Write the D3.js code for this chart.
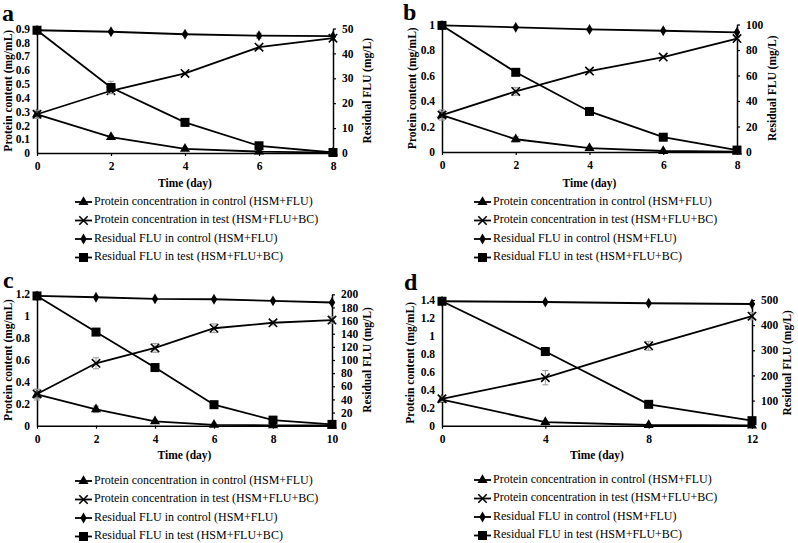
<!DOCTYPE html>
<html>
<head>
<meta charset="utf-8">
<script src="https://cdn.jsdelivr.net/npm/d3@7"></script>
<style>
  html, body { margin: 0; padding: 0; background: #fff; }
  svg { display: block; }
  text { font-family: "Liberation Serif", "Times New Roman", serif; fill: #000; }
</style>
</head>
<body>
<svg id="chart" width="798" height="543"></svg>
<script>
// ---------------- DATA ----------------
const seriesNames = [
  "Protein concentration in control (HSM+FLU)",
  "Protein concentration in test (HSM+FLU+BC)",
  "Residual FLU in control (HSM+FLU)",
  "Residual FLU in test (HSM+FLU+BC)"
];
const xTitle = "Time (day)";
const leftTitle = "Protein content (mg/mL)";
const rightTitle = "Residual FLU (mg/L)";

// Panel a
const daysA = [0, 2, 4, 6, 8];
const protCtrlA = [0.28, 0.115, 0.03, 0.01, 0.003];
const protTestA = [0.28, 0.45, 0.575, 0.765, 0.83];
const fluCtrlA = [49.3, 48.7, 47.7, 47.1, 46.9];
const fluTestA = [49.3, 26.3, 12.3, 2.9, 0.2];
const protCtrlErrA = [0.01, 0.01, 0.005, 0.003, 0.002];
const protTestErrA = [0.03, 0.02, 0.01, 0.015, 0.01];
const fluCtrlErrA = [0.5, 0.5, 0.5, 1, 0.5];
const fluTestErrA = [0.5, 2.5, 1.5, 1, 0.3];
const leftTicksA = [0, 0.1, 0.2, 0.3, 0.4, 0.5, 0.6, 0.7, 0.8, 0.9];
const rightTicksA = [0, 10, 20, 30, 40, 50];
const xTicksA = [0, 2, 4, 6, 8];

// Panel b
const daysB = [0, 2, 4, 6, 8];
const protCtrlB = [0.29, 0.1, 0.03, 0.008, 0.003];
const protTestB = [0.29, 0.475, 0.635, 0.745, 0.89];
const fluCtrlB = [99.3, 97.8, 96.1, 95.1, 93.9];
const fluTestB = [99.3, 62.5, 31.8, 11.6, 1.5];
const protCtrlErrB = [0.04, 0.02, 0.01, 0.005, 0.003];
const protTestErrB = [0.03, 0.03, 0.015, 0.01, 0.01];
const fluCtrlErrB = [0.5, 0.5, 1, 0.5, 0.5];
const fluTestErrB = [0.5, 1.5, 2, 1, 0.5];
const leftTicksB = [0, 0.2, 0.4, 0.6, 0.8, 1];
const rightTicksB = [0, 20, 40, 60, 80, 100];
const xTicksB = [0, 2, 4, 6, 8];

// Panel c
const daysC = [0, 2, 4, 6, 8, 10];
const protCtrlC = [0.285, 0.15, 0.04, 0.008, 0.003, 0.002];
const protTestC = [0.29, 0.57, 0.71, 0.89, 0.94, 0.965];
const fluCtrlC = [197.5, 195.5, 193, 192.5, 190, 187.5];
const fluTestC = [197.5, 142.5, 88.5, 32, 8.5, 2];
const protCtrlErrC = [0.05, 0.03, 0.01, 0.005, 0.003, 0.002];
const protTestErrC = [0.04, 0.05, 0.04, 0.04, 0.02, 0.03];
const fluCtrlErrC = [1, 1, 1, 1, 1, 1];
const fluTestErrC = [1, 2, 2, 1.5, 1, 1];
const leftTicksC = [0, 0.2, 0.4, 0.6, 0.8, 1, 1.2];
const rightTicksC = [0, 20, 40, 60, 80, 100, 120, 140, 160, 180, 200];
const xTicksC = [0, 2, 4, 6, 8, 10];

// Panel d
const daysD = [0, 4, 8, 12];
const protCtrlD = [0.29, 0.04, 0.008, 0.002];
const protTestD = [0.3, 0.535, 0.89, 1.22];
const fluCtrlD = [495, 492, 487, 484];
const fluTestD = [495, 295, 85, 20];
const protCtrlErrD = [0.02, 0.01, 0.005, 0.002];
const protTestErrD = [0.03, 0.08, 0.05, 0.04];
const fluCtrlErrD = [2, 2, 2, 2];
const fluTestErrD = [3, 5, 4, 3];
const leftTicksD = [0, 0.2, 0.4, 0.6, 0.8, 1, 1.2, 1.4];
const rightTicksD = [0, 100, 200, 300, 400, 500];
const xTicksD = [0, 4, 8, 12];

// ---------------- DRAW ----------------
const svg = d3.select("#chart");

const panels = [
  { letter: "a", lx: 2, ly: 21, x0: 37, x1: 333, yTop: 28.5, yBot: 153,
    days: daysA, xMax: 8, xTicks: xTicksA, lMax: 0.9, lTicks: leftTicksA, rMax: 50, rTicks: rightTicksA,
    series: [protCtrlA, protTestA, fluCtrlA, fluTestA], errs: [protCtrlErrA, protTestErrA, fluCtrlErrA, fluTestErrA],
    ltx: 9, rtx: 368, xtY: 187, legX: 75, legY: 202 },
  { letter: "b", lx: 403, ly: 20, x0: 442, x1: 737, yTop: 24.5, yBot: 152,
    days: daysB, xMax: 8, xTicks: xTicksB, lMax: 1, lTicks: leftTicksB, rMax: 100, rTicks: rightTicksB,
    series: [protCtrlB, protTestB, fluCtrlB, fluTestB], errs: [protCtrlErrB, protTestErrB, fluCtrlErrB, fluTestErrB],
    ltx: 413, rtx: 773, xtY: 187, legX: 474, legY: 202 },
  { letter: "c", lx: 3, ly: 288, x0: 37, x1: 332, yTop: 294.3, yBot: 425.7,
    days: daysC, xMax: 10, xTicks: xTicksC, lMax: 1.2, lTicks: leftTicksC, rMax: 200, rTicks: rightTicksC,
    series: [protCtrlC, protTestC, fluCtrlC, fluTestC], errs: [protCtrlErrC, protTestErrC, fluCtrlErrC, fluTestErrC],
    ltx: 9, rtx: 368, xtY: 459, legX: 75, legY: 481 },
  { letter: "d", lx: 404, ly: 290, x0: 442, x1: 752, yTop: 300, yBot: 425.7,
    days: daysD, xMax: 12, xTicks: xTicksD, lMax: 1.4, lTicks: leftTicksD, rMax: 500, rTicks: rightTicksD,
    series: [protCtrlD, protTestD, fluCtrlD, fluTestD], errs: [protCtrlErrD, protTestErrD, fluCtrlErrD, fluTestErrD],
    ltx: 411, rtx: 788, xtY: 459, legX: 474, legY: 480 }
];

const markerTypes = ["triangle", "cross", "diamond", "square"];

function drawMarker(g, type, x, y) {
  if (type === "triangle") {
    g.append("path").attr("d", d3.symbol(d3.symbolTriangle, 44)()).attr("transform", `translate(${x},${y})`).attr("fill", "#000");
  } else if (type === "cross") {
    const s = 4.2;
    g.append("path").attr("d", `M${x - s},${y - s}L${x + s},${y + s}M${x - s},${y + s}L${x + s},${y - s}`)
      .attr("stroke", "#000").attr("stroke-width", 1.6).attr("fill", "none");
  } else if (type === "diamond") {
    g.append("path").attr("d", d3.symbol(d3.symbolDiamond, 34)()).attr("transform", `translate(${x},${y})`).attr("fill", "#000");
  } else {
    g.append("rect").attr("x", x - 4.5).attr("y", y - 4.5).attr("width", 9).attr("height", 9).attr("fill", "#000");
  }
}

panels.forEach(p => {
  const g = svg.append("g");
  const x = d3.scaleLinear().domain([0, p.xMax]).range([p.x0, p.x1]);
  const yl = d3.scaleLinear().domain([0, p.lMax]).range([p.yBot, p.yTop]);
  const yr = d3.scaleLinear().domain([0, p.rMax]).range([p.yBot, p.yTop]);

  // panel letter
  g.append("text").attr("x", p.lx).attr("y", p.ly).attr("font-size", 24).attr("font-weight", "bold").text(p.letter);

  // axes
  const ax = g.append("g").attr("transform", `translate(0,${p.yBot})`)
    .call(d3.axisBottom(x).tickValues(p.xTicks).tickSize(3).tickSizeOuter(0).tickPadding(6).tickFormat(d3.format("d")));
  const al = g.append("g").attr("transform", `translate(${p.x0},0)`)
    .call(d3.axisLeft(yl).tickValues(p.lTicks).tickSize(0).tickSizeOuter(0).tickPadding(7).tickFormat(d => String(+d.toFixed(2))));
  const ar = g.append("g").attr("transform", `translate(${p.x1},0)`)
    .call(d3.axisRight(yr).tickValues(p.rTicks).tickSize(3).tickSizeOuter(0).tickPadding(6).tickFormat(d3.format("d")));
  [ax, al, ar].forEach(a => {
    a.selectAll("path.domain").attr("stroke", "#000").attr("stroke-width", 1.5);
    a.selectAll(".tick line").attr("stroke", "#000").attr("stroke-width", 1.2);
    a.selectAll(".tick text").attr("font-family", "Liberation Serif, Times New Roman, serif")
      .attr("font-size", 11.5).attr("font-weight", "bold").attr("fill", "#000");
  });

  // axis titles
  g.append("text").attr("transform", `translate(${p.ltx},${(p.yTop + p.yBot) / 2}) rotate(-90)`)
    .attr("text-anchor", "middle").attr("dominant-baseline", "middle").attr("font-size", 11.5).attr("font-weight", "bold").text(leftTitle);
  g.append("text").attr("transform", `translate(${p.rtx},${(p.yTop + p.yBot) / 2}) rotate(-90)`)
    .attr("text-anchor", "middle").attr("dominant-baseline", "middle").attr("font-size", 11.5).attr("font-weight", "bold").text(rightTitle);
  g.append("text").attr("x", (p.x0 + p.x1) / 2).attr("y", p.xtY).attr("text-anchor", "middle")
    .attr("font-size", 11.5).attr("font-weight", "bold").text(xTitle);

  // series
  p.series.forEach((vals, si) => {
    const yS = si < 2 ? yl : yr;
    const errs = p.errs[si];
    // error bars
    vals.forEach((v, i) => {
      const e = errs[i];
      const cx = x(p.days[i]);
      g.append("path").attr("d", `M${cx},${yS(v - e)}L${cx},${yS(v + e)}M${cx - 3},${yS(v - e)}L${cx + 3},${yS(v - e)}M${cx - 3},${yS(v + e)}L${cx + 3},${yS(v + e)}`)
        .attr("stroke", "#999").attr("stroke-width", 1).attr("fill", "none");
    });
    const line = d3.line().x((d, i) => x(p.days[i])).y(d => yS(d));
    g.append("path").datum(vals).attr("d", line).attr("fill", "none").attr("stroke", "#000").attr("stroke-width", 1.8);
    vals.forEach((v, i) => drawMarker(g, markerTypes[si], x(p.days[i]), yS(v)));
  });

  // legend
  seriesNames.forEach((name, si) => {
    const ly = p.legY + si * 18.5;
    g.append("line").attr("x1", p.legX).attr("x2", p.legX + 17).attr("y1", ly).attr("y2", ly)
      .attr("stroke", "#000").attr("stroke-width", 1.8);
    drawMarker(g, markerTypes[si], p.legX + 8.5, ly);
    g.append("text").attr("x", p.legX + 19).attr("y", ly).attr("dominant-baseline", "middle")
      .attr("font-size", 12).text(name);
  });
});
</script>
</body>
</html>
